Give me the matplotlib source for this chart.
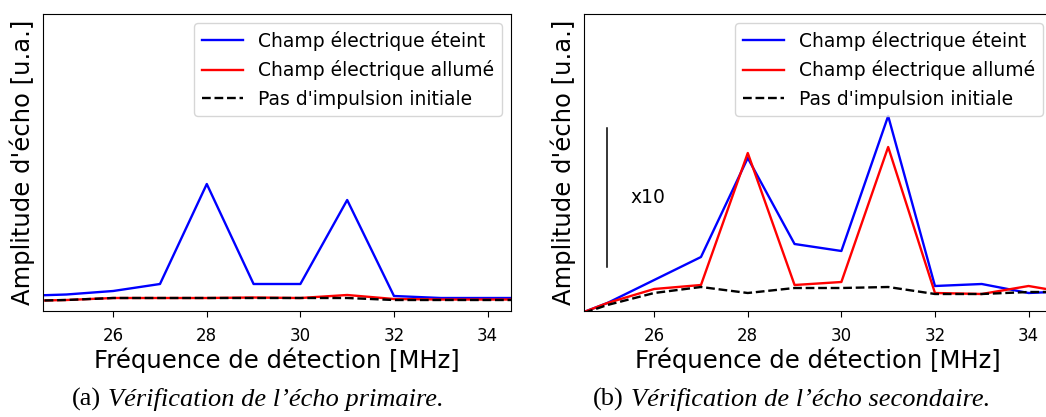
import numpy as np
import matplotlib
matplotlib.use("Agg")
import matplotlib.pyplot as plt

##### Data (arbitrary units) #####
freqs = [24, 25, 26, 27, 28, 29, 30, 31, 32, 33, 34, 35]

# (a) primary echo
off_a = [15, 16.5, 20, 27, 127, 27, 27, 111, 15, 13, 13, 13]
on_a = [10, 11, 13, 13, 13, 13.5, 13, 16, 12, 11.5, 11.5, 11.5]
nopulse_a = [10, 11, 13, 13, 13, 13, 13, 13, 11, 11, 11, 11]

# (b) secondary echo
off_b = [-10, 8, 31, 54, 153, 67, 60, 195, 25, 27, 18, 20]
on_b = [-10, 8, 22, 26, 158, 26, 29, 164, 18, 17, 25, 17]
nopulse_b = [-10, 6, 18, 24, 18, 23, 23, 24, 17, 17, 19, 19]

scale_bar = [44, 183]
xticks = [26, 28, 30, 32, 34]
labels = ["Champ électrique éteint", "Champ électrique allumé", "Pas d'impulsion initiale"]
captions = [("(a)", "Vérification de l\u2019écho primaire."),
            ("(b)", "Vérification de l\u2019écho secondaire.")]

fig = plt.figure(figsize=(10.46, 4.17), dpi=100)
ax_a = fig.add_axes([0.0411, 0.2542, 0.4474, 0.7122])
ax_b = fig.add_axes([0.5583, 0.2542, 0.4474, 0.7122])

for ax, off, on, nop in [(ax_a, off_a, on_a, nopulse_a), (ax_b, off_b, on_b, nopulse_b)]:
    ax.plot(freqs, off, color='blue', lw=1.7, label=labels[0])
    ax.plot(freqs, on, color='red', lw=1.7, label=labels[1])
    ax.plot(freqs, nop, color='black', ls='--', lw=1.7, label=labels[2])
    ax.set_xlim(24.5, 34.5)
    ax.set_ylim(0, 297)
    ax.set_xticks(xticks)
    ax.set_yticks([])
    ax.tick_params(axis='x', labelsize=12, length=4.3, pad=7.5)
    ax.set_xlabel("Fréquence de détection [MHz]", fontsize=17.5, labelpad=1.5)
    ax.set_ylabel("Amplitude d'écho [u.a.]", fontsize=17.5, labelpad=6)
    ax.legend(loc='upper right', fontsize=13.5, handlelength=2.2)

# x10 scale marker on the secondary echo panel
ax_b.plot([25, 25], scale_bar, color='black', lw=1.1)
ax_b.text(25.5, 114, "x10", fontsize=13.5, va='center', ha='left')

# sub-figure captions
for xpos, (tag, txt) in zip([72 / 1046, 593 / 1046], captions):
    t = fig.text(xpos, 11 / 417, tag, fontsize=19, family='Liberation Serif', va='baseline')
    fig.add_artist(plt.Annotation(txt, xy=(1, 0), xycoords=t, xytext=(5, 0), textcoords='offset points',
                                  fontsize=19, family='Liberation Serif', style='italic', va='bottom'))

fig.savefig("out.png", dpi=100)
